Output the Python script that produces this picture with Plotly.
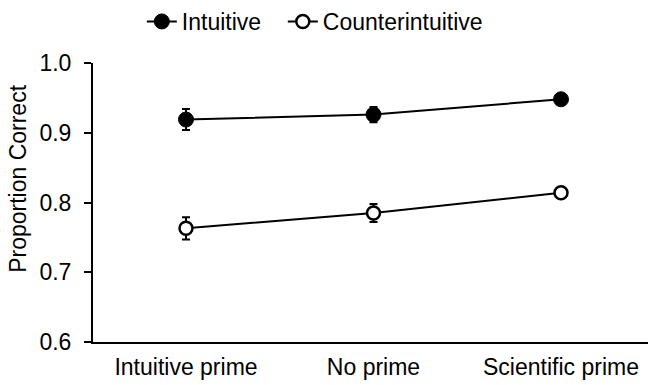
import plotly.graph_objects as go

categories = ["Intuitive prime", "No prime", "Scientific prime"]
intuitive = [0.919, 0.926, 0.948]
intuitive_err = [0.015, 0.011, 0.004]
counter = [0.763, 0.785, 0.814]
counter_err = [0.016, 0.013, 0.004]
y_ticks = [0.6, 0.7, 0.8, 0.9, 1.0]
y_ticktext = ["0.6", "0.7", "0.8", "0.9", "1.0"]
y_title = "Proportion Correct"

xpos = list(range(len(categories)))

fig = go.Figure()
fig.add_trace(go.Scatter(
    x=xpos, y=intuitive, name="Intuitive", mode="lines+markers",
    line=dict(color="black", width=2), legend="legend",
    marker=dict(symbol="circle", size=15, color="black", line=dict(color="black", width=1)),
    error_y=dict(type="data", array=intuitive_err, color="black", thickness=2, width=4),
))
fig.add_trace(go.Scatter(
    x=xpos, y=counter, name="Counterintuitive", mode="lines+markers",
    line=dict(color="black", width=2), legend="legend2",
    marker=dict(symbol="circle", size=13, color="white", line=dict(color="black", width=2.5)),
    error_y=dict(type="data", array=counter_err, color="black", thickness=2, width=4),
))

legend_common = dict(orientation="h", xanchor="left",
                     yref="container", y=1.0, yanchor="top",
                     font=dict(size=23), itemwidth=30,
                     bgcolor="rgba(0,0,0,0)")

fig.update_layout(
    width=648, height=385,
    margin=dict(l=93, r=0, t=63, b=43),
    paper_bgcolor="white", plot_bgcolor="white",
    font=dict(family="Liberation Sans, Arial, sans-serif", color="black"),
    showlegend=True,
    legend=dict(x=0.088, **legend_common),
    legend2=dict(x=0.342, **legend_common),
    xaxis=dict(
        tickmode="array", tickvals=xpos, ticktext=categories,
        range=[-0.496, 2.464], showgrid=False, zeroline=False,
        showline=True, linecolor="black", linewidth=2,
        ticks="", tickfont=dict(size=23), ticklabelstandoff=3,
    ),
    yaxis=dict(
        tickmode="array", tickvals=y_ticks, ticktext=y_ticktext,
        range=[0.6, 1.0], showgrid=False, zeroline=False,
        showline=True, linecolor="black", linewidth=2,
        ticks="outside", ticklen=7, tickwidth=2, tickcolor="black",
        tickfont=dict(size=23), ticklabelstandoff=8,
    ),
    annotations=[dict(
        text=y_title, textangle=-90, showarrow=False,
        xref="paper", yref="paper", x=-0.135, y=0.585,
        xanchor="center", yanchor="middle", font=dict(size=23),
    )],
)

fig.write_html("out.html", config={"displayModeBar": False},
               post_script="document.body.style.margin='0';")
